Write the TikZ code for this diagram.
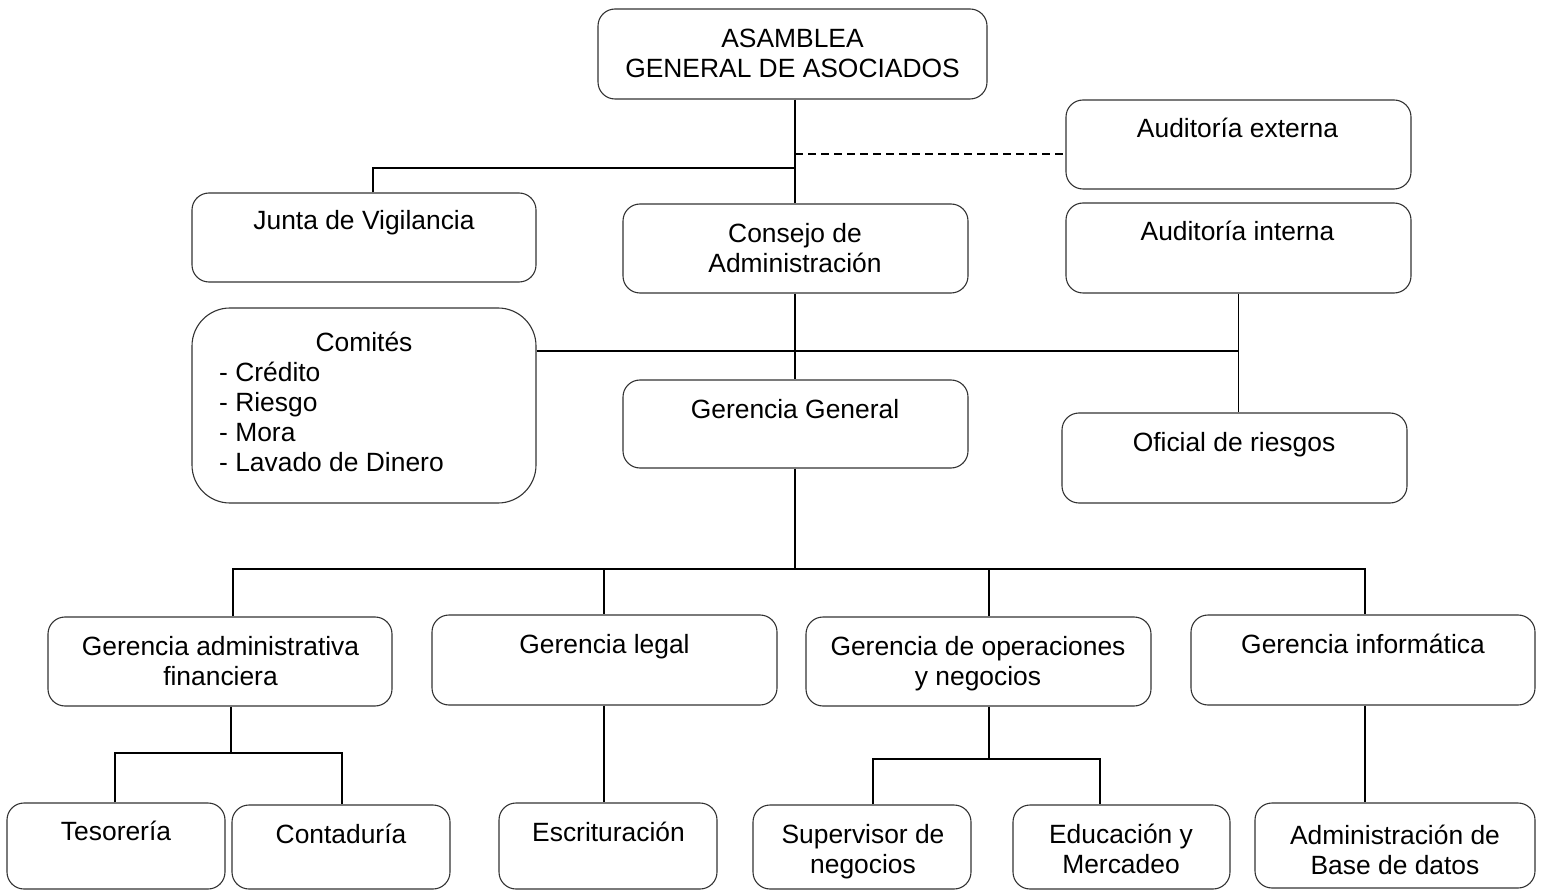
\documentclass[tikz,border=0pt]{standalone}
\usepackage{fontspec}
\setmainfont{Liberation Sans}
\begin{document}
\begin{tikzpicture}[x=1pt,y=-1pt,
  box/.style={draw=black!80, line width=1.1pt, rounded corners=17pt, rectangle, inner sep=0pt},
  bigbox/.style={box, rounded corners=38pt},
  txt/.style={inner sep=0pt, anchor=base, font=\fontsize{26.4}{30}\selectfont},
  ltxt/.style={txt, anchor=base west},
  conn/.style={line width=1.8pt, black},
  dconn/.style={line width=1.5pt, black, dash pattern=on 8pt off 5pt}]
\useasboundingbox (0,0) rectangle (1545,890);

% ---- boxes ----
\node[box, minimum width=389pt, minimum height=90pt] (asam) at (792.5,54) {};
\node[box, minimum width=345pt, minimum height=89pt] (audext) at (1238.5,144.5) {};
\node[box, minimum width=345pt, minimum height=90pt] (audint) at (1238.5,248) {};
\node[box, minimum width=344pt, minimum height=89pt] (jv) at (364,237.5) {};
\node[bigbox, minimum width=344pt, minimum height=195pt] (com) at (364,405.5) {};
\node[box, minimum width=345pt, minimum height=89pt] (cons) at (795.5,248.5) {};
\node[box, minimum width=345pt, minimum height=88pt] (gg) at (795.5,424) {};
\node[box, minimum width=345pt, minimum height=90pt] (ofr) at (1234.5,458) {};
\node[box, minimum width=344pt, minimum height=89pt] (gaf) at (220,661.5) {};
\node[box, minimum width=345pt, minimum height=90pt] (gl) at (604.5,660) {};
\node[box, minimum width=345pt, minimum height=89pt] (gon) at (978.5,661.5) {};
\node[box, minimum width=344pt, minimum height=90pt] (gi) at (1363,660) {};
\node[box, minimum width=218pt, minimum height=86pt] (tes) at (116,846) {};
\node[box, minimum width=218pt, minimum height=84pt] (con) at (341,847) {};
\node[box, minimum width=218pt, minimum height=86pt] (esc) at (608,846) {};
\node[box, minimum width=218pt, minimum height=84pt] (sup) at (862,847) {};
\node[box, minimum width=217pt, minimum height=84pt] (edu) at (1121.5,847) {};
\node[box, minimum width=280pt, minimum height=85pt] (abd) at (1395,845.5) {};

% ---- labels ----
\node[txt] (asam-t) at (792.5,48) {\begin{tabular}[t]{@{}c@{}}ASAMBLEA\\GENERAL DE ASOCIADOS\end{tabular}};
\node[txt] (audext-t) at (1237.5,138) {Auditoría externa};
\node[txt] (audint-t) at (1237.5,241) {Auditoría interna};
\node[txt] (jv-t) at (364,230) {Junta de Vigilancia};
\node[txt] (com-t) at (364,352) {Comités};
\node[ltxt] (com-l) at (219,382) {\begin{tabular}[t]{@{}l@{}}- Crédito\\- Riesgo\\- Mora\\- Lavado de Dinero\end{tabular}};
\node[txt] (cons-t) at (795,243) {\begin{tabular}[t]{@{}c@{}}Consejo de\\Administración\end{tabular}};
\node[txt] (gg-t) at (795,418) {Gerencia General};
\node[txt] (ofr-t) at (1234,451) {Oficial de riesgos};
\node[txt] (gaf-t) at (220.5,655) {\begin{tabular}[t]{@{}c@{}}Gerencia administrativa\\financiera\end{tabular}};
\node[txt] (gl-t) at (604.5,653) {Gerencia legal};
\node[txt] (gon-t) at (978,655) {\begin{tabular}[t]{@{}c@{}}Gerencia de operaciones\\y negocios\end{tabular}};
\node[txt] (gi-t) at (1363,653) {Gerencia informática};
\node[txt] (tes-t) at (116,840) {Tesorería};
\node[txt] (con-t) at (341,843) {Contaduría};
\node[txt] (esc-t) at (608.5,841) {Escrituración};
\node[txt] (sup-t) at (863,843) {\begin{tabular}[t]{@{}c@{}}Supervisor de\\negocios\end{tabular}};
\node[txt] (edu-t) at (1121,843) {\begin{tabular}[t]{@{}c@{}}Educación y\\Mercadeo\end{tabular}};
\node[txt] (abd-t) at (1395,844) {\begin{tabular}[t]{@{}c@{}}Administración de\\Base de datos\end{tabular}};

% ---- junction points ----
\coordinate (spine) at (795,0);
\coordinate (jvk) at (373,168);
\coordinate (dashy) at (0,154);
\coordinate (comy) at (0,351);
\coordinate (b1) at (233,569);
\coordinate (b2) at (604,569);
\coordinate (b3) at (989,569);
\coordinate (b4) at (1365,569);
\coordinate (fk) at (231,753);
\coordinate (tk) at (115,753);
\coordinate (ck) at (342,753);
\coordinate (ok) at (989,759);
\coordinate (sk) at (873,759);
\coordinate (ek) at (1100,759);

% ---- upper connectors ----
\draw[conn] (asam.south -| spine) -- (cons.north -| spine);
\draw[conn] (jv.north -| jvk) -- (jvk) -- (spine |- jvk);
\draw[dconn] (spine |- dashy) -- (audext.west |- dashy);
\draw[conn] (cons.south -| spine) -- (gg.north -| spine);
\draw[conn] (com.east |- comy) -- (audint.south |- comy);
\draw[conn] (audint.south) -- (ofr.north -| audint.south);

% ---- management level ----
\draw[conn] (gg.south -| spine) -- (spine |- b1);
\draw[conn] (gaf.north -| b1) -- (b1) -- (b4) -- (gi.north -| b4);
\draw[conn] (b2) -- (gl.north -| b2);
\draw[conn] (b3) -- (gon.north -| b3);

% ---- lower level ----
\draw[conn] (gaf.south -| fk) -- (fk);
\draw[conn] (tes.north -| tk) -- (tk) -- (ck) -- (con.north -| ck);
\draw[conn] (gl.south -| b2) -- (esc.north -| b2);
\draw[conn] (gon.south -| ok) -- (ok);
\draw[conn] (sup.north -| sk) -- (sk) -- (ek) -- (edu.north -| ek);
\draw[conn] (gi.south -| b4) -- (abd.north -| b4);
\end{tikzpicture}
\end{document}
